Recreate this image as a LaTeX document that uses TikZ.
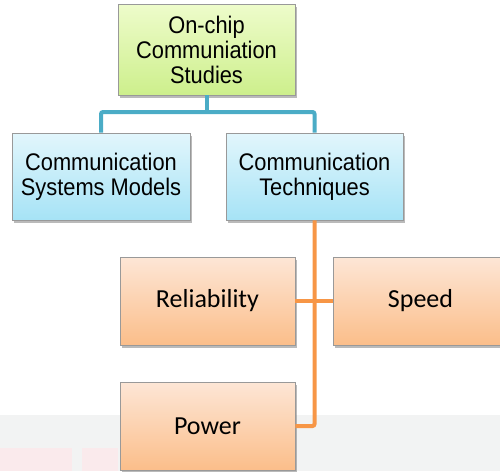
\documentclass[tikz,border=0pt]{standalone}
\usepackage{fontspec}
\setmainfont{Liberation Sans}
\newfontfamily\arialn[FakeStretch=0.91]{Liberation Sans}
\newfontfamily\calib{Carlito}
\usetikzlibrary{shadows}
\definecolor{tealline}{HTML}{4BACC6}
\definecolor{orangeline}{HTML}{F79646}
\definecolor{bandgray}{HTML}{F2F3F3}
\definecolor{bandpink}{HTML}{FAEAEC}
\definecolor{greentop}{HTML}{EEFCCB}
\definecolor{greenbot}{HTML}{CDEF8C}
\definecolor{bluetop}{HTML}{E2F6FC}
\definecolor{bluebot}{HTML}{A6E3F6}
\definecolor{orangetop}{HTML}{FDE6D6}
\definecolor{orangebot}{HTML}{FBBE8A}
\tikzset{
  box/.style={draw=black!40, line width=0.8pt, align=center, inner sep=2pt,
    drop shadow={shadow xshift=1.5pt, shadow yshift=-2.5pt, opacity=0.45, fill=black!60}},
  greenbox/.style={box, top color=greentop, bottom color=greenbot,
    font=\arialn\fontsize{24}{25}\selectfont},
  bluebox/.style={box, top color=bluetop, bottom color=bluebot,
    font=\arialn\fontsize{24}{25}\selectfont},
  orangebox/.style={box, top color=orangetop, bottom color=orangebot,
    font=\calib\fontsize{26}{30}\selectfont},
  tline/.style={draw=tealline, line width=4pt, rounded corners=2pt},
  oline/.style={draw=orangeline, line width=4pt, rounded corners=2pt},
}
\begin{document}
\begin{tikzpicture}[x=1pt,y=-1pt]
\useasboundingbox (0,0) rectangle (500,471);
\clip (0,0) rectangle (500,471);
\fill[bandgray] (0,415) rectangle (500,471);
\fill[bandpink] (0,448) rectangle (72,471);
\fill[bandpink] (82,448) rectangle (118,471);
\node[greenbox, minimum width=177pt, minimum height=91pt] (top) at (206.5,49.5) {On-chip\\Communiation\\Studies};
\node[bluebox, minimum width=178pt, minimum height=87pt] (lm) at (101,176.5) {Communication\\Systems Models};
\node[bluebox, minimum width=177pt, minimum height=87pt] (rm) at (314.5,176.5) {Communication\\Techniques};
\node[orangebox, minimum width=175pt, minimum height=88pt] (rel) at (207.5,301) {Reliability};
\node[orangebox, minimum width=175pt, minimum height=88pt] (sp) at (420.5,301) {Speed};
\node[orangebox, minimum width=175pt, minimum height=88pt] (pw) at (207.5,426) {Power};
\coordinate (j) at (206.5,112);
\draw[tline] (top.south) -- (j);
\draw[tline] (lm.north) |- (j) -| (rm.north);
\draw[oline] (rm.south) |- (pw.east);
\draw[oline] (rel.east) -- (sp.west);
\end{tikzpicture}
\end{document}
